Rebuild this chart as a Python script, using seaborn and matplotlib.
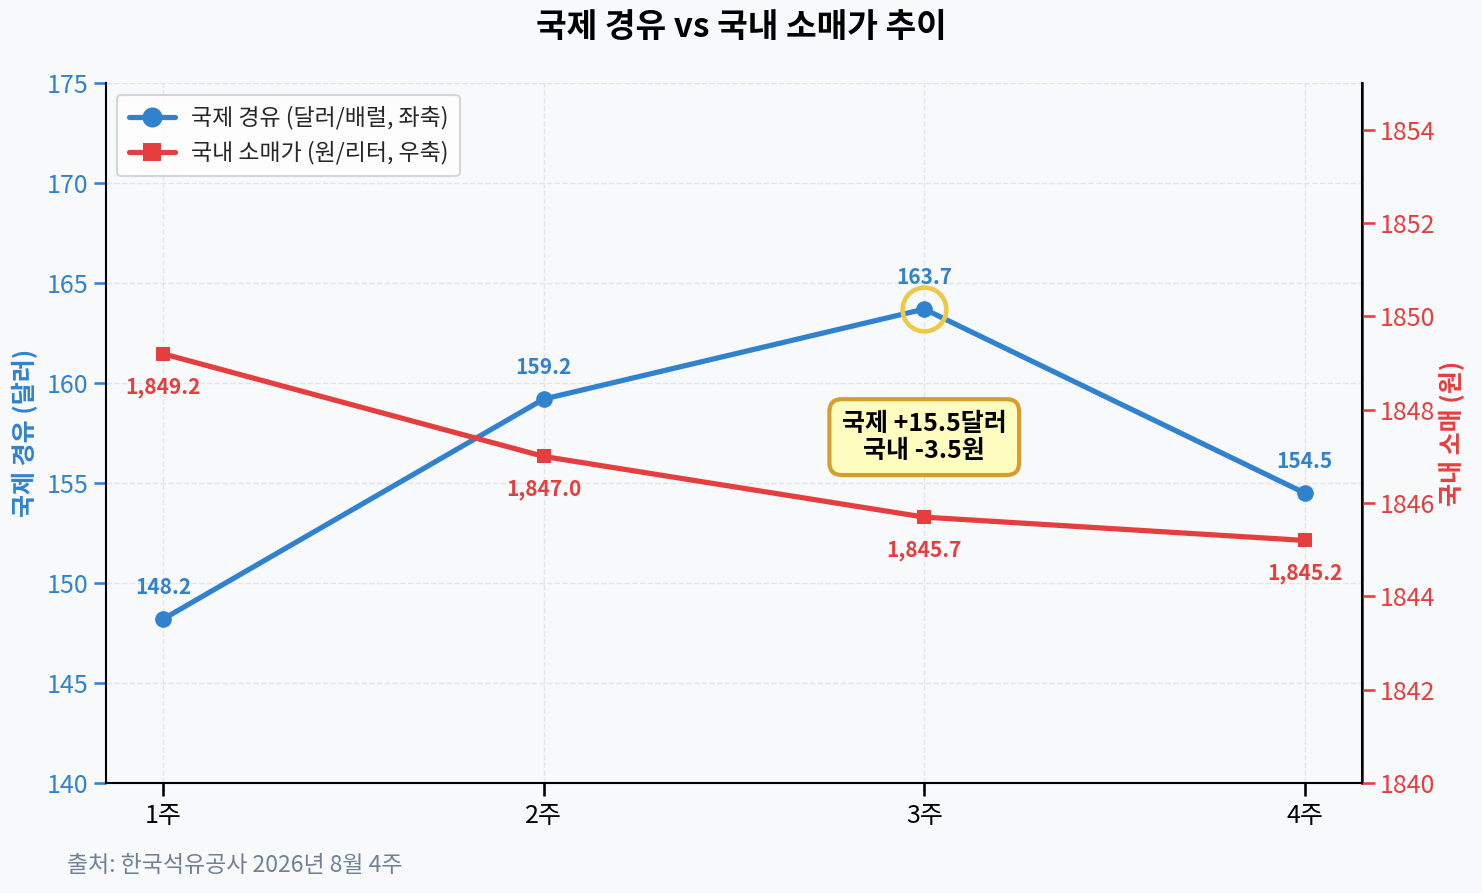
import matplotlib
matplotlib.use("Agg")
import matplotlib.pyplot as plt
import seaborn as sns
import pandas as pd

weeks = ["1주", "2주", "3주", "4주"]
intl_oil = [148.2, 159.2, 163.7, 154.5]
domestic_price = [1849.2, 1847.0, 1845.7, 1845.2]

sns.set_theme(style="white")
plt.rcParams['font.family'] = ['Noto Sans CJK KR', 'DejaVu Sans']
plt.rcParams['axes.unicode_minus'] = False

blue = "#3182ce"
red = "#e53e3e"
bg = "#f8f9fa"

df = pd.DataFrame({"week": weeks, "x": range(len(weeks)),
                   "intl": intl_oil, "dom": domestic_price})

fig, ax = plt.subplots(figsize=(14.82 / 1.5, 8.93 / 1.5), dpi=150)
fig.patch.set_facecolor(bg)
ax.set_facecolor(bg)
ax2 = ax.twinx()

sns.lineplot(data=df, x="x", y="intl", ax=ax, color=blue, linewidth=2.5,
             marker="o", markersize=8, markeredgewidth=0,
             label="국제 경유 (달러/배럴, 좌축)", legend=False)
sns.lineplot(data=df, x="x", y="dom", ax=ax2, color=red, linewidth=2.5,
             marker="s", markersize=7, markeredgewidth=0,
             label="국내 소매가 (원/리터, 우축)", legend=False)

ax.set_xlim(-0.15, 3.15)
ax.set_ylim(140, 175)
ax2.set_ylim(1840, 1855)
ax2.set_yticks(range(1840, 1855, 2))
ax.set_xticks(df["x"])
ax.set_xticklabels(weeks)
ax.set_xlabel("")
ax.set_ylabel("국제 경유 (달러)", color=blue, fontsize=12, fontweight="bold", labelpad=4)
ax2.set_ylabel("국내 소매 (원)", color=red, fontsize=12, fontweight="bold", labelpad=2)
ax.tick_params(axis="y", colors=blue, labelsize=12, left=True, pad=2.5)
ax.tick_params(axis="x", labelsize=12, colors="black", bottom=True)
ax2.tick_params(axis="y", colors=red, labelsize=12, right=True, pad=2.5)

ax.grid(True, linestyle="--", color="#dde1e6", linewidth=0.7, alpha=0.8)
ax.spines["top"].set_visible(False)
ax2.spines["top"].set_visible(False)
for s in ("left", "bottom"):
    ax.spines[s].set_color("black")
    ax.spines[s].set_linewidth(1.0)
ax2.spines["right"].set_color("black")
ax2.spines["right"].set_linewidth(1.0)
ax2.spines["left"].set_visible(False)
ax2.spines["bottom"].set_visible(False)

for i, v in enumerate(intl_oil):
    ax2.annotate(f"{v:.1f}", (i, v), xycoords=ax.transData, xytext=(0, 10),
                 textcoords="offset points", ha="center", va="bottom",
                 color=blue, fontsize=10, fontweight="bold")
for i, v in enumerate(domestic_price):
    ax2.annotate(f"{v:,.1f}", (i, v), xytext=(0, -11), textcoords="offset points",
                 ha="center", va="top", color=red, fontsize=10, fontweight="bold")

peak = intl_oil.index(max(intl_oil))
ax.plot(peak, intl_oil[peak], marker="o", markersize=21, markerfacecolor="none",
        markeredgecolor="#ecc94b", markeredgewidth=2.2, zorder=5)

ax2.text(2, 157.3, "국제 +15.5달러\n국내 -3.5원", transform=ax.transData,
         ha="center", va="center", fontsize=12, fontweight="bold", color="black",
         linespacing=1.15,
         bbox=dict(boxstyle="round,pad=0.5", facecolor="#fefcbf",
                   edgecolor="#d69e2e", linewidth=2), zorder=6)

h1, l1 = ax.get_legend_handles_labels()
h2, l2 = ax2.get_legend_handles_labels()
ax2.legend(h1 + h2, l1 + l2, loc="upper left", fontsize=11,
           frameon=True, facecolor="white", edgecolor="#cccccc",
           handlelength=2.0, handletextpad=0.7, markerscale=1.2, borderpad=0.5)

fig.suptitle("국제 경유 vs 국내 소매가 추이", fontsize=16, fontweight="bold",
             color="black", y=0.969, va="center")
fig.text(0.045, 0.031, "출처: 한국석유공사 2026년 8월 4주", fontsize=11, color="#718096", va="center")

plt.subplots_adjust(left=0.0715, right=0.919, top=0.907, bottom=0.123)
fig.savefig("out.png", dpi=150, facecolor=bg)
